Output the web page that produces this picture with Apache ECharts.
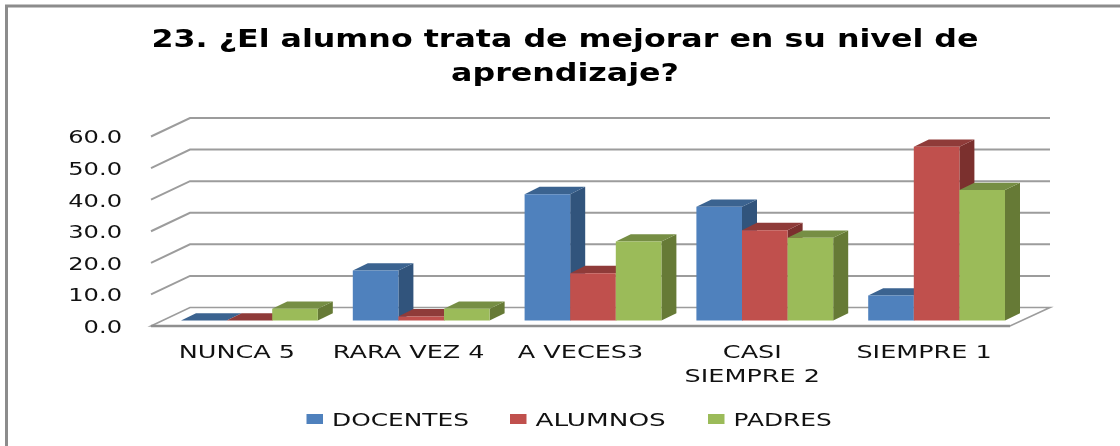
<!DOCTYPE html>
<html><head><meta charset="utf-8">
<script src="https://cdn.jsdelivr.net/npm/echarts@6/dist/echarts.min.js"></script>
<style>html,body{margin:0;padding:0;background:#fff;overflow:hidden}#c{width:1120px;height:446px}#c canvas{filter:blur(0.45px)}</style>
</head><body><div id="c"></div>
<script>
var titleLines = ['23. ¿El alumno trata de mejorar en su nivel de', 'aprendizaje?'];
var categories = ['NUNCA 5', 'RARA VEZ 4', 'A VECES3', 'CASI\nSIEMPRE 2', 'SIEMPRE 1'];
var seriesNames = ['DOCENTES', 'ALUMNOS', 'PADRES'];
var docentes = [0, 15.8, 40, 36, 7.9];
var alumnos = [0, 1.3, 15, 28.6, 55];
var padres = [3.7, 3.7, 25, 26.2, 41.3];
var ticks = [0, 10, 20, 30, 40, 50, 60];

var BAR_SHIFT = [12.5, -5.5], BAR_DEPTH = [15, -7.3], WALL = [39, -18.5], BAR_W = 45.6;
var GRID_COL = '#9c9c9c', INK = '#111';
var LABEL_FONT = '17px "DejaVu Sans"';

function wallItem(params, api) {
  var y = api.coord([0, api.value(0)])[1], left = params.coordSys.x, right = left + params.coordSys.width;
  return {type: 'polyline', shape: {points: [[left, y], [left + WALL[0], y + WALL[1]], [right + 40, y + WALL[1]]]},
    style: {fill: null, stroke: GRID_COL, lineWidth: 2}, silent: true};
}
function floorItem(params, api) {
  var y = api.coord([0, 0])[1], left = params.coordSys.x, right = left + params.coordSys.width;
  return {type: 'group', children: [
    {type: 'polygon', shape: {points: [[left, y], [left + WALL[0], y + WALL[1]], [right + 40, y + WALL[1]], [right, y]]},
      style: {fill: '#fff', stroke: GRID_COL, lineWidth: 1.6}, silent: true},
    {type: 'line', shape: {x1: left, y1: y, x2: right, y2: y}, style: {stroke: '#8f8f8f', lineWidth: 2.5}, silent: true}
  ]};
}
function xLabelItem(params, api) {
  var i = api.value(0), c = api.coord([i, 0]);
  var lines = categories[i].split('\n');
  return {type: 'group', children: lines.map(function (t, k) {
    return {type: 'text', x: c[0], y: c[1] + 28 + k * 23.5, scaleX: 1.5,
      style: {text: t, font: LABEL_FONT, fill: INK, textAlign: 'center', textVerticalAlign: 'middle'}};
  })};
}
function yLabelItem(params, api) {
  var v = api.value(0), c = api.coord([0, v]);
  return {type: 'text', x: 122, y: c[1] + 2.5, scaleX: 1.42,
    style: {text: v.toFixed(1), font: LABEL_FONT, fill: INK, textAlign: 'right', textVerticalAlign: 'middle'}};
}
function barSeries(name, data, slot, front, top, side) {
  return {
    name: name, type: 'custom', data: data.map(function (v, i) { return [i, v]; }),
    encode: {x: 0, y: 1}, itemStyle: {color: front},
    renderItem: function (params, api) {
      var c = api.coord([api.value(0), api.value(1)]);
      var b = api.coord([api.value(0), 0]);
      var x0 = c[0] + BAR_SHIFT[0] + (slot - 1.5) * BAR_W, x1 = x0 + BAR_W;
      var yT = c[1] + BAR_SHIFT[1], yB = b[1] + BAR_SHIFT[1];
      var dx = BAR_DEPTH[0], dy = BAR_DEPTH[1];
      return {type: 'group', children: [
        {type: 'polygon', shape: {points: [[x1, yB], [x1 + dx, yB + dy], [x1 + dx, yT + dy], [x1, yT]]}, style: {fill: side}},
        {type: 'polygon', shape: {points: [[x0, yT], [x0 + dx, yT + dy], [x1 + dx, yT + dy], [x1, yT]]}, style: {fill: top}},
        {type: 'rect', shape: {x: x0, y: yT, width: BAR_W, height: yB - yT}, style: {fill: front}}
      ]};
    }
  };
}
function legendEntry(name, color, x, stretch) {
  return [
    {type: 'rect', x: x, y: 414, shape: {width: 16.5, height: 10}, style: {fill: color}, silent: true},
    {type: 'text', x: x + 25.5, y: 421, scaleX: stretch, silent: true,
      style: {text: name, font: '18px "DejaVu Sans"', fill: INK, textAlign: 'left', textVerticalAlign: 'middle'}}
  ];
}

var chart = echarts.init(document.getElementById('c'), null, {renderer: 'canvas'});
chart.setOption({
  animation: false,
  backgroundColor: '#fff',
  grid: {left: 151, right: 110, top: 136.5, height: 189.5},
  xAxis: {type: 'category', data: categories, axisLine: {show: false}, axisTick: {show: false}, axisLabel: {show: false}},
  yAxis: {type: 'value', min: 0, max: 60, interval: 10, axisLine: {show: false}, axisTick: {show: false},
    splitLine: {show: false}, axisLabel: {show: false}},
  graphic: [
    {type: 'polyline', silent: true, shape: {points: [[6.5, 446], [6.5, 6], [1120, 6]]},
      style: {fill: null, stroke: '#8c8c8c', lineWidth: 3}},
    {type: 'text', x: 565, y: 40.5, scaleX: 1.32, silent: true,
      style: {text: titleLines[0], font: 'bold 24px "DejaVu Sans"', fill: '#000', textAlign: 'center', textVerticalAlign: 'middle'}},
    {type: 'text', x: 565, y: 74.5, scaleX: 1.32, silent: true,
      style: {text: titleLines[1], font: 'bold 24px "DejaVu Sans"', fill: '#000', textAlign: 'center', textVerticalAlign: 'middle'}}
  ].concat(legendEntry(seriesNames[0], '#4F81BD', 306.5, 1.38), legendEntry(seriesNames[1], '#C0504D', 510, 1.46), legendEntry(seriesNames[2], '#9BBB59', 708, 1.38)),
  series: [
    {type: 'custom', data: ticks.slice(1).map(function (t) { return [t]; }), encode: {y: 0}, renderItem: wallItem, silent: true},
    {type: 'custom', data: [[0]], encode: {y: 0}, renderItem: floorItem, silent: true},
    {type: 'custom', data: ticks.map(function (t) { return [t]; }), encode: {y: 0}, renderItem: yLabelItem, silent: true},
    {type: 'custom', data: categories.map(function (c, i) { return [i]; }), encode: {x: 0}, renderItem: xLabelItem, silent: true},
    barSeries(seriesNames[0], docentes, 0, '#4F81BD', '#3B6390', '#31547C'),
    barSeries(seriesNames[1], alumnos, 1, '#C0504D', '#8F3B39', '#7B302E'),
    barSeries(seriesNames[2], padres, 2, '#9BBB59', '#768E44', '#667A36')
  ]
});
</script></body></html>
